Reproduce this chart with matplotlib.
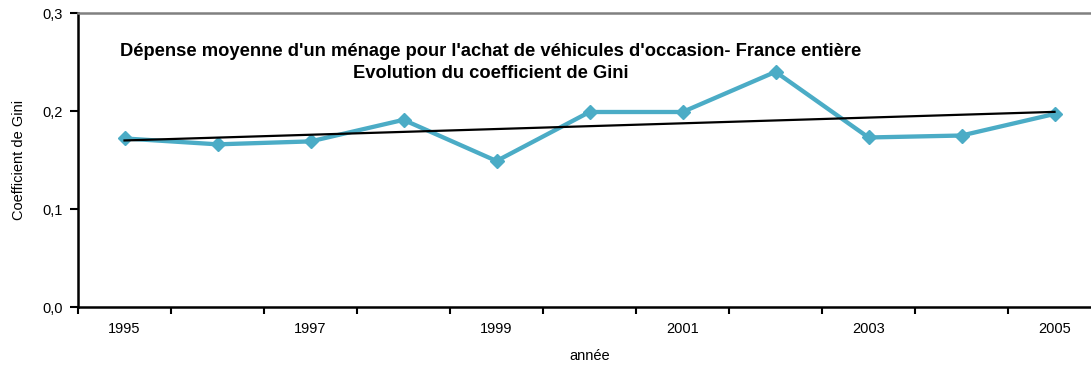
import numpy as np
import matplotlib.pyplot as plt

plt.rcParams['font.family'] = ['Liberation Sans', 'DejaVu Sans']

annees = [1995, 1996, 1997, 1998, 1999, 2000, 2001, 2002, 2003, 2004, 2005]
gini = [0.172, 0.166, 0.169, 0.191, 0.149, 0.199, 0.199, 0.240, 0.173, 0.175, 0.197]
etiquettes_y = ['0,0', '0,1', '0,2', '0,3']

x = np.arange(len(annees))

# droite de tendance linéaire
pente, origine = np.polyfit(x, gini, 1)
tendance = pente * x + origine

fig = plt.figure(figsize=(10.91, 3.69), dpi=100)
ax = fig.add_axes([0.0715, 0.168, 0.9377, 0.7967])

ax.plot(x, gini, color='#4BACC6', lw=3.1, marker='D', markersize=7.5,
        markeredgecolor='#4BACC6', zorder=3, clip_on=False)
ax.plot(x, tendance, color='black', lw=1.6, zorder=4)

ax.set_xlim(-0.5, len(annees) - 0.5)
ax.set_ylim(0, 0.3)

ax.set_yticks([0, 0.1, 0.2, 0.3])
ax.set_yticklabels(etiquettes_y, fontsize=10.5)
ax.tick_params(axis='y', direction='out', length=6, width=1.5, pad=5)

# graduations entre les catégories, libellés une année sur deux
ax.set_xticks(np.arange(-0.5, len(annees), 1.0))
ax.set_xticklabels([])
ax.tick_params(axis='x', which='major', direction='out', length=5, width=1.5)
ax.set_xticks(x[::2], minor=True)
ax.set_xticklabels([str(a) for a in annees[::2]], minor=True, fontsize=10.5)
ax.tick_params(axis='x', which='minor', length=0, pad=11)

for cote in ['left', 'bottom']:
    ax.spines[cote].set_color('black')
    ax.spines[cote].set_linewidth(1.8)
ax.spines['top'].set_color('#808080')
ax.spines['top'].set_linewidth(1.8)
ax.spines['right'].set_visible(False)

ax.set_ylabel('Coefficient de Gini', fontsize=10.5, labelpad=12)
ax.set_xlabel('année', fontsize=10.5, labelpad=9)

fig.text(491 / 1091, 1 - 62.5 / 369,
         "Dépense moyenne d'un ménage pour l'achat de véhicules d'occasion- France entière\n"
         "Evolution du coefficient de Gini",
         ha='center', va='center', fontsize=13.2, fontweight='bold',
         linespacing=1.35, multialignment='center')

fig.savefig('out.png', dpi=100)
